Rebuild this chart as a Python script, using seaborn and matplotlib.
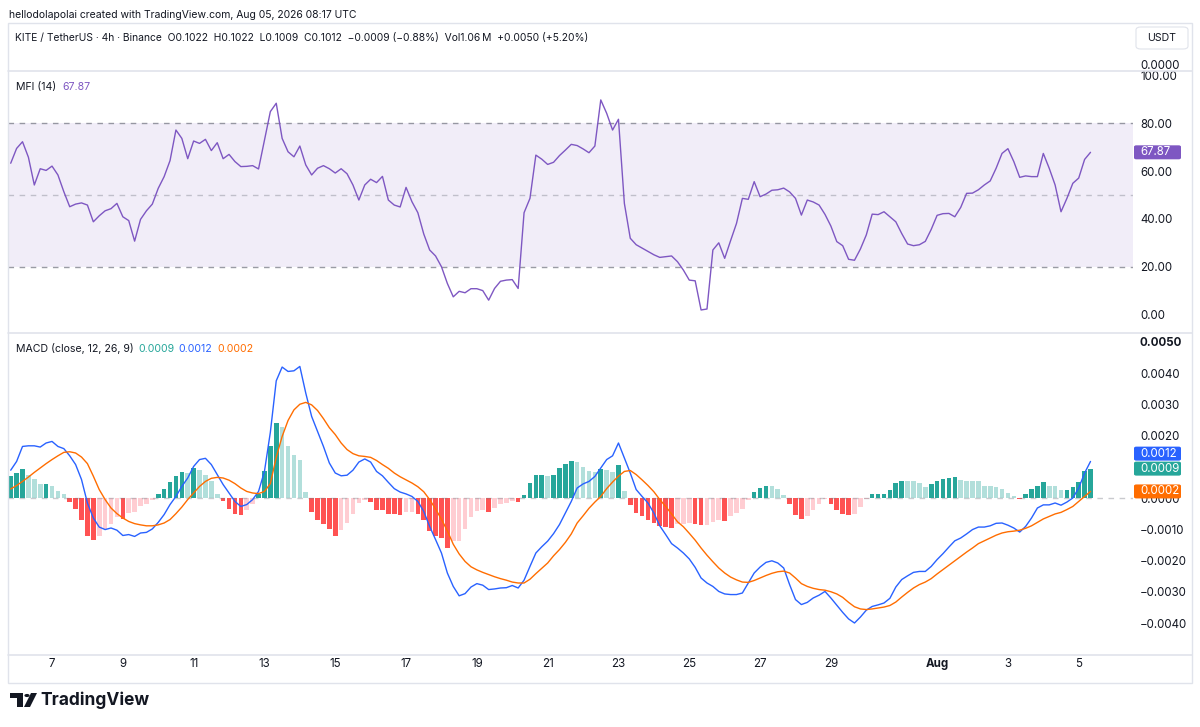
import matplotlib
matplotlib.use("Agg")
import matplotlib.pyplot as plt
import seaborn as sns
from matplotlib.patches import FancyBboxPatch, Rectangle, Polygon, Circle
from matplotlib.lines import Line2D

# chart values, one entry per 4h bar (first bar Jul 5 20:00, last Aug 5 08:00)
mfi = [
    63.3, 69.5, 72.3, 65.8, 54.2, 61.0, 60.3, 62.1, 58.4, 51.4,
    45.1, 46.2, 46.7, 45.8, 38.8, 41.3, 43.4, 44.3, 46.5, 40.9,
    39.3, 30.7, 39.8, 43.4, 46.2, 52.8, 57.7, 64.4, 77.2, 73.7,
    65.2, 72.6, 71.6, 73.3, 68.6, 71.9, 65.2, 67.0, 64.0, 61.9,
    62.0, 62.3, 60.9, 73.0, 84.9, 88.4, 73.7, 68.1, 66.0, 70.5,
    62.6, 58.4, 61.2, 62.3, 61.0, 59.2, 61.0, 58.9, 54.2, 47.9,
    54.2, 56.6, 55.2, 57.8, 47.9, 45.8, 45.0, 53.2, 47.2, 42.6,
    33.7, 27.0, 24.5, 20.0, 13.0, 7.4, 9.7, 9.1, 10.8, 10.8,
    10.0, 6.0, 10.9, 13.9, 14.4, 14.6, 10.9, 42.6, 48.6, 66.7,
    65.0, 62.8, 63.7, 66.5, 68.8, 71.2, 70.7, 69.3, 67.7, 70.5,
    89.8, 84.2, 77.2, 81.7, 46.5, 31.9, 29.2, 27.8, 26.4, 25.0,
    23.9, 24.2, 24.5, 22.1, 18.6, 14.4, 14.1, 1.9, 2.3, 27.0,
    30.0, 23.5, 30.9, 38.1, 48.6, 48.2, 55.6, 49.3, 50.4, 52.0,
    52.2, 52.9, 51.3, 48.6, 41.6, 47.9, 47.1, 45.8, 41.9, 37.0,
    30.5, 28.8, 23.1, 22.7, 27.4, 33.3, 42.0, 41.8, 43.0, 40.9,
    38.8, 33.9, 29.5, 28.8, 29.2, 30.6, 35.6, 41.5, 42.2, 42.3,
    40.9, 44.8, 50.7, 50.8, 52.2, 54.2, 55.9, 61.2, 67.4, 69.4,
    64.0, 57.4, 58.0, 57.7, 57.7, 67.4, 61.2, 54.2, 43.0, 48.6,
    54.9, 57.1, 64.9, 67.87,
]

macd = [
    0.00089, 0.00117, 0.00165, 0.00167, 0.00167, 0.00163, 0.00176, 0.00181, 0.00165, 0.00158,
    0.00135, 0.00107, 0.00059, -0.00016, -0.00064, -0.00093, -0.00101, -0.00096, -0.00103, -0.00120,
    -0.00117, -0.00123, -0.00112, -0.00110, -0.00099, -0.00078, -0.00053, -0.00021, 0.00005, 0.00037,
    0.00064, 0.00101, 0.00123, 0.00127, 0.00107, 0.00075, 0.00043, 0.00016, -0.00011, -0.00027,
    -0.00021, -0.00005, 0.00021, 0.00085, 0.00210, 0.00375, 0.00419, 0.00405, 0.00407, 0.00421,
    0.00336, 0.00261, 0.00213, 0.00165, 0.00112, 0.00080, 0.00071, 0.00073, 0.00089, 0.00115,
    0.00125, 0.00115, 0.00085, 0.00071, 0.00050, 0.00030, 0.00019, 0.00013, 0.00005, -0.00011,
    -0.00043, -0.00091, -0.00133, -0.00176, -0.00240, -0.00283, -0.00313, -0.00306, -0.00285, -0.00274,
    -0.00279, -0.00293, -0.00291, -0.00288, -0.00287, -0.00280, -0.00288, -0.00263, -0.00219, -0.00176,
    -0.00156, -0.00138, -0.00114, -0.00085, -0.00048, -0.00011, 0.00032, 0.00045, 0.00053, 0.00069,
    0.00096, 0.00123, 0.00135, 0.00176, 0.00128, 0.00080, 0.00027, 0.00005, -0.00016, -0.00048,
    -0.00089, -0.00117, -0.00146, -0.00160, -0.00176, -0.00195, -0.00222, -0.00256, -0.00272, -0.00283,
    -0.00299, -0.00307, -0.00309, -0.00309, -0.00304, -0.00272, -0.00240, -0.00221, -0.00206, -0.00201,
    -0.00208, -0.00224, -0.00277, -0.00325, -0.00341, -0.00334, -0.00320, -0.00311, -0.00299, -0.00320,
    -0.00343, -0.00366, -0.00387, -0.00400, -0.00381, -0.00359, -0.00347, -0.00342, -0.00336, -0.00321,
    -0.00285, -0.00261, -0.00249, -0.00238, -0.00235, -0.00235, -0.00219, -0.00197, -0.00178, -0.00157,
    -0.00137, -0.00128, -0.00115, -0.00101, -0.00093, -0.00093, -0.00089, -0.00081, -0.00080, -0.00087,
    -0.00096, -0.00109, -0.00091, -0.00064, -0.00032, -0.00022, -0.00022, -0.00016, -0.00023, -0.00013,
    0.00000, 0.00032, 0.00080, 0.00117,
]

signal = [
    0.00029, 0.00040, 0.00053, 0.00067, 0.00082, 0.00096, 0.00110, 0.00123, 0.00135, 0.00146,
    0.00148, 0.00144, 0.00131, 0.00110, 0.00070, 0.00027, -0.00005, -0.00032, -0.00050, -0.00064,
    -0.00075, -0.00082, -0.00086, -0.00089, -0.00089, -0.00086, -0.00080, -0.00069, -0.00050, -0.00029,
    -0.00005, 0.00016, 0.00037, 0.00053, 0.00063, 0.00066, 0.00064, 0.00057, 0.00046, 0.00032,
    0.00021, 0.00016, 0.00014, 0.00021, 0.00046, 0.00130, 0.00197, 0.00248, 0.00282, 0.00300,
    0.00306, 0.00298, 0.00280, 0.00254, 0.00225, 0.00203, 0.00176, 0.00155, 0.00142, 0.00135,
    0.00133, 0.00130, 0.00120, 0.00107, 0.00095, 0.00080, 0.00068, 0.00058, 0.00048, 0.00036,
    0.00020, -0.00005, -0.00035, -0.00068, -0.00105, -0.00148, -0.00179, -0.00203, -0.00220, -0.00230,
    -0.00238, -0.00245, -0.00252, -0.00258, -0.00263, -0.00269, -0.00272, -0.00272, -0.00260, -0.00242,
    -0.00225, -0.00208, -0.00185, -0.00165, -0.00142, -0.00115, -0.00080, -0.00057, -0.00033, -0.00013,
    0.00005, 0.00030, 0.00051, 0.00070, 0.00085, 0.00088, 0.00075, 0.00058, 0.00040, 0.00020,
    -0.00005, -0.00027, -0.00051, -0.00076, -0.00092, -0.00113, -0.00135, -0.00160, -0.00183, -0.00204,
    -0.00224, -0.00240, -0.00253, -0.00262, -0.00269, -0.00270, -0.00264, -0.00256, -0.00248, -0.00241,
    -0.00236, -0.00234, -0.00240, -0.00256, -0.00274, -0.00283, -0.00289, -0.00293, -0.00295, -0.00300,
    -0.00307, -0.00318, -0.00334, -0.00348, -0.00355, -0.00357, -0.00355, -0.00352, -0.00349, -0.00344,
    -0.00333, -0.00317, -0.00302, -0.00288, -0.00277, -0.00269, -0.00258, -0.00243, -0.00229, -0.00215,
    -0.00201, -0.00187, -0.00173, -0.00160, -0.00146, -0.00137, -0.00128, -0.00119, -0.00112, -0.00108,
    -0.00106, -0.00103, -0.00097, -0.00089, -0.00078, -0.00067, -0.00059, -0.00051, -0.00046, -0.00037,
    -0.00027, -0.00011, 0.00005, 0.00021,
]

hist = [
    0.00069, 0.00080, 0.00093, 0.00073, 0.00062, 0.00045, 0.00046, 0.00040, 0.00021, 0.00013,
    -0.00014, -0.00034, -0.00070, -0.00120, -0.00134, -0.00123, -0.00100, -0.00083, -0.00062, -0.00068,
    -0.00048, -0.00044, -0.00027, -0.00020, -0.00005, 0.00014, 0.00029, 0.00050, 0.00070, 0.00082,
    0.00080, 0.00096, 0.00090, 0.00074, 0.00055, 0.00013, -0.00010, -0.00034, -0.00051, -0.00054,
    -0.00037, -0.00019, 0.00014, 0.00085, 0.00165, 0.00240, 0.00227, 0.00167, 0.00139, 0.00123,
    0.00020, -0.00044, -0.00069, -0.00083, -0.00100, -0.00123, -0.00103, -0.00081, -0.00051, -0.00016,
    -0.00007, -0.00012, -0.00037, -0.00038, -0.00051, -0.00052, -0.00053, -0.00046, -0.00045, -0.00050,
    -0.00070, -0.00105, -0.00120, -0.00127, -0.00161, -0.00137, -0.00136, -0.00100, -0.00062, -0.00040,
    -0.00037, -0.00044, -0.00032, -0.00020, -0.00016, -0.00009, -0.00013, 0.00010, 0.00048, 0.00074,
    0.00075, 0.00072, 0.00075, 0.00095, 0.00108, 0.00118, 0.00116, 0.00100, 0.00087, 0.00084,
    0.00094, 0.00090, 0.00083, 0.00105, 0.00021, -0.00022, -0.00048, -0.00059, -0.00069, -0.00080,
    -0.00091, -0.00092, -0.00096, -0.00083, -0.00082, -0.00081, -0.00083, -0.00087, -0.00085, -0.00078,
    -0.00070, -0.00072, -0.00057, -0.00048, -0.00035, -0.00006, 0.00019, 0.00032, 0.00040, 0.00038,
    0.00028, 0.00010, -0.00018, -0.00053, -0.00068, -0.00059, -0.00037, -0.00020, -0.00003, -0.00020,
    -0.00038, -0.00050, -0.00053, -0.00050, -0.00028, -0.00003, 0.00012, 0.00013, 0.00014, 0.00025,
    0.00048, 0.00055, 0.00054, 0.00053, 0.00048, 0.00036, 0.00045, 0.00054, 0.00062, 0.00064,
    0.00067, 0.00059, 0.00056, 0.00055, 0.00054, 0.00040, 0.00037, 0.00035, 0.00030, 0.00016,
    0.00006, -0.00004, 0.00013, 0.00030, 0.00040, 0.00050, 0.00040, 0.00039, 0.00025, 0.00027,
    0.00036, 0.00050, 0.00085, 0.00094,
]

# date ticks (bar index of midnight) and their labels
tick_pos = [7, 19, 31, 43, 55, 67, 79, 91, 103, 115, 127, 139, 157, 169, 181]
tick_labels = ["7", "9", "11", "13", "15", "17", "19", "21", "23", "25", "27", "29", "Aug", "3", "5"]

bars = list(range(len(mfi)))

# TradingView colours
TXT = "#131722"
PURPLE = "#7E57C2"
BLUE = "#2962FF"
ORANGE = "#FF6D00"
TEAL = "#26A69A"
hist_palette = {"grow_up": "#26A69A", "fall_up": "#B2DFDB",
                "fall_down": "#FF5252", "grow_down": "#FFCDD2"}

# colour of each histogram bar depends on sign and direction
kinds = []
for i, v in enumerate(hist):
    prev = hist[i - 1] if i > 0 else v
    if v >= 0:
        kinds.append("grow_up" if v >= prev else "fall_up")
    else:
        kinds.append("fall_down" if v < prev else "grow_down")

sns.set_theme(style="white")
plt.rcParams["font.family"] = ["Inter", "DejaVu Sans"]

W, H = 1200, 727
fig = plt.figure(figsize=(W / 100, H / 100), dpi=100)
fig.patch.set_facecolor("white")


def px_axes(x0, y0, x1, y1):
    return fig.add_axes([x0 / W, 1 - y1 / H, (x1 - x0) / W, (y1 - y0) / H])


def ftext(x, y, s, **kw):
    kw.setdefault("va", "center")
    kw.setdefault("color", TXT)
    fig.text(x / W, 1 - y / H, s, **kw)


ax_price = px_axes(8, 23, 1133, 71)
ax_mfi = px_axes(8, 71, 1133, 333)
ax_macd = px_axes(8, 334, 1133, 655)

xmin, xmax = -0.46, 190.2
for ax in (ax_price, ax_mfi, ax_macd):
    ax.set_facecolor("none")
    for s in ax.spines.values():
        s.set_visible(False)

ax_price.set_xticks([])
ax_price.set_yticks([])
ax_price.set_xlim(xmin, xmax)

# ---- MFI pane ----
ax_mfi.axhspan(20, 80, color=PURPLE, alpha=0.1, lw=0)
for lvl, a in ((80, 0.75), (50, 0.4), (20, 0.75)):
    ax_mfi.axhline(lvl, color="#787B86", lw=1, ls=(0, (4, 4)), alpha=a)
sns.lineplot(x=bars, y=mfi, ax=ax_mfi, color=PURPLE, linewidth=1.0)
ax_mfi.set_xlim(xmin, xmax)
ax_mfi.set_ylim(-7.74, 101.9)
ax_mfi.set_xticks([])
ax_mfi.yaxis.tick_right()
ax_mfi.set_yticks([0, 20, 40, 60, 80, 100])
ax_mfi.set_yticklabels([f"{v:.2f}" for v in [0, 20, 40, 60, 80, 100]])
ax_mfi.tick_params(axis="y", length=0, pad=5, labelsize=8.3, labelcolor=TXT)
ax_mfi.set_xlabel("")
ax_mfi.set_ylabel("")

# ---- MACD pane ----
ax_macd.axhline(0, color="#787B86", lw=1, ls=(0, (4, 4)), alpha=0.4)
sns.barplot(x=bars, y=hist, hue=kinds, palette=hist_palette, dodge=False,
            native_scale=True, width=0.78, errorbar=None, legend=False,
            saturation=1, linewidth=0, ax=ax_macd)
sns.lineplot(x=bars, y=macd, ax=ax_macd, color=BLUE, linewidth=1.0)
sns.lineplot(x=bars, y=signal, ax=ax_macd, color=ORANGE, linewidth=1.0)
ax_macd.set_xlim(xmin, xmax)
ax_macd.set_ylim(-0.005024, 0.005248)
ax_macd.yaxis.tick_right()
# the -0.0010 .. 0.0010 labels next to the tags: 0.0010 is hidden by them
macd_ticks = [-0.004, -0.003, -0.002, -0.001, 0.0, 0.002, 0.003, 0.004, 0.005]
ax_macd.set_yticks(macd_ticks)
ax_macd.set_yticklabels([f"{v:.4f}".replace("-", "\u2212") if abs(v) > 1e-12 else "0.0000"
                         for v in macd_ticks])
ax_macd.tick_params(axis="y", length=0, pad=5, labelsize=8.3, labelcolor=TXT)
for lab in ax_macd.get_yticklabels():
    if lab.get_text() == "0.0050":
        lab.set_fontweight("bold")
ax_macd.set_xticks(tick_pos)
ax_macd.set_xticklabels(tick_labels)
ax_macd.tick_params(axis="x", length=0, pad=2.5, labelsize=8.3, labelcolor=TXT)
for lab in ax_macd.get_xticklabels():
    if lab.get_text() == "Aug":
        lab.set_fontweight("bold")
ax_macd.set_xlabel("")
ax_macd.set_ylabel("")

# ---- frame and separators ----
fig.add_artist(Rectangle((8 / W, 1 - 683 / H), (1192 - 8) / W, (683 - 23) / H,
                         transform=fig.transFigure, fill=False, ec="#E0E3EB", lw=1))
for yy in (71, 333, 655):
    fig.add_artist(Line2D([8 / W, 1192 / W], [1 - yy / H, 1 - yy / H],
                          transform=fig.transFigure, color="#E0E3EB", lw=1.2))


# ---- last value tags on the price scale ----
def tag(ax, value, text, color, shift=0.0):
    y_disp = ax.transData.transform((0, value))[1]
    y = H - y_disp + shift
    fig.add_artist(FancyBboxPatch((1134 / W, 1 - (y + 7) / H), 47 / W, 14 / H,
                                  boxstyle="round,pad=0,rounding_size=0.002",
                                  transform=fig.transFigure, fc=color, ec="none",
                                  zorder=5))
    fig.text(1140 / W, 1 - y / H, text, color="white", fontsize=8.3, va="center", zorder=6)
    return y


tag(ax_mfi, mfi[-1], f"{mfi[-1]:.2f}", PURPLE)
y_teal = tag(ax_macd, hist[-1], f"{hist[-1]:.4f}", TEAL)
y_orng = tag(ax_macd, signal[-1], f"{signal[-1]:.4f}", ORANGE)
y_blue_raw = H - ax_macd.transData.transform((0, macd[-1]))[1]
tag(ax_macd, macd[-1], f"{macd[-1]:.4f}", BLUE, shift=min(0, (y_teal - 15) - y_blue_raw))

# ---- texts ----
ftext(9, 15, "hellodolapolai created with TradingView.com, Aug 05, 2026 08:17 UTC", fontsize=7.5)
ftext(15, 38, "KITE / TetherUS \u00b7 4h \u00b7 Binance  O0.1022  H0.1022  L0.1009  C0.1012  "
      "\u22120.0009 (\u22120.88%)  Vol1.06\u2009M  +0.0050 (+5.20%)", fontsize=7.4)
ftext(1140, 66, "0.0000", fontsize=8.3)
fig.add_artist(FancyBboxPatch((1136 / W, 1 - 49 / H), 52 / W, 22 / H,
                              boxstyle="round,pad=0,rounding_size=0.004",
                              transform=fig.transFigure, fc="white", ec="#E0E3EB", lw=0.8))
ftext(1162, 38, "USDT", fontsize=7.6, ha="center")

ftext(16, 87, "MFI (14)", fontsize=7.6)
ftext(62, 87, f"{mfi[-1]:.2f}", fontsize=7.6, color=PURPLE)
ftext(16, 349, "MACD (close, 12, 26, 9)", fontsize=7.6)
ftext(138, 349, f"{hist[-1]:.4f}", fontsize=7.6, color=TEAL)
ftext(178, 349, f"{macd[-1]:.4f}", fontsize=7.6, color=BLUE)
ftext(217, 349, f"{signal[-1]:.4f}", fontsize=7.6, color=ORANGE)

# ---- TradingView logo ----
fig.add_artist(Polygon([(10 / W, 1 - 693 / H), (23 / W, 1 - 693 / H), (23 / W, 1 - 707 / H),
                        (17 / W, 1 - 707 / H), (17 / W, 1 - 698 / H), (10 / W, 1 - 698 / H)],
                       closed=True, transform=fig.transFigure, fc=TXT, ec="none"))
fig.add_artist(Circle((27 / W, 1 - 695.5 / H), 2.6 / W, transform=fig.transFigure, fc=TXT, ec="none"))
fig.add_artist(Polygon([(31 / W, 1 - 693 / H), (37 / W, 1 - 693 / H), (30 / W, 1 - 707 / H),
                        (24 / W, 1 - 707 / H)],
                       closed=True, transform=fig.transFigure, fc=TXT, ec="none"))
ftext(40, 700, "TradingView", fontsize=12.5, fontweight="bold")

fig.savefig("out.png", dpi=100)
